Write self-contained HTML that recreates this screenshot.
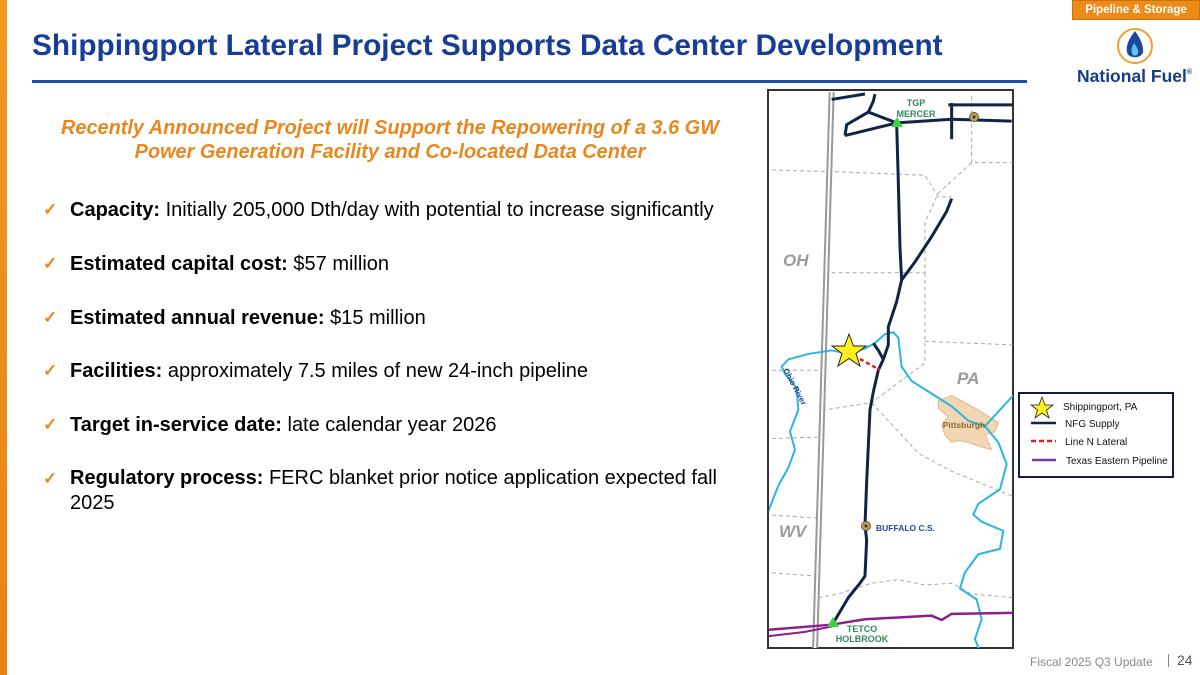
<!DOCTYPE html>
<html><head><meta charset="utf-8"><style>
*{margin:0;padding:0;box-sizing:border-box}
body{width:1200px;height:675px;position:relative;background:#fff;font-family:"Liberation Sans",Arial,sans-serif;overflow:hidden}
.abs{position:absolute}
.bul{position:absolute;left:43px;font-size:20px;color:#000;white-space:nowrap}
.bul .ck{position:absolute;left:0;top:1px;color:#e8871e;font-size:17px;font-weight:bold}
.bul .tx{position:absolute;left:27px}
.bul b{font-weight:bold}
</style></head><body>
<div class="abs" style="left:0;top:0;width:7px;height:675px;background:linear-gradient(#f29a1f,#e8820f)"></div>
<div class="abs" style="left:1072px;top:0;width:128px;height:20px;background:#ee8a16;border:1px solid #c9730e;color:#fff;font-weight:bold;font-size:11.5px;text-align:center;line-height:19px">Pipeline &amp; Storage</div>
<div class="abs" style="left:32px;top:29px;font-size:29.8px;font-weight:bold;color:#173d96;white-space:nowrap">Shippingport Lateral Project Supports Data Center Development</div>
<div class="abs" style="left:32px;top:80px;width:995px;height:3px;background:#1f4ea3"></div>
<svg class="abs" style="left:1070px;top:24px" width="125" height="62">
<circle cx="65" cy="22" r="17" fill="#fff" stroke="#f0a030" stroke-width="2"/>
<path d="M65 7 C58 16 56 22 57 28 C58 35 72 35 73 28 C74 22 70 14 65 7Z" fill="#1a4aa0"/>
<path d="M64 19 C61 24 61 28 63 31 C66 33 69 30 68 26 C67 23 65 21 64 19Z" fill="#5cc7ee"/>
<text x="7" y="58" font-family="Liberation Sans" font-weight="bold" font-size="17.5" fill="#173d86">National Fuel<tspan font-size="7" dy="-8">®</tspan></text>
</svg>
<div class="abs" style="left:20px;top:116px;width:740px;text-align:center;font-size:19.9px;font-weight:bold;font-style:italic;color:#e8871e;line-height:24px">Recently Announced Project will Support the Repowering of a 3.6 GW<br>Power Generation Facility and Co-located Data Center</div>
<div class="bul" style="top:199px"><span class="ck">✓</span><span class="tx"><b>Capacity:</b> Initially 205,000 Dth/day with potential to increase significantly</span></div>
<div class="bul" style="top:253px"><span class="ck">✓</span><span class="tx"><b>Estimated capital cost:</b> $57 million</span></div>
<div class="bul" style="top:307px"><span class="ck">✓</span><span class="tx"><b>Estimated annual revenue:</b> $15 million</span></div>
<div class="bul" style="top:360px"><span class="ck">✓</span><span class="tx"><b>Facilities:</b> approximately 7.5 miles of new 24-inch pipeline</span></div>
<div class="bul" style="top:414px"><span class="ck">✓</span><span class="tx"><b>Target in-service date:</b> late calendar year 2026</span></div>
<div class="bul" style="top:468px"><span class="ck">✓</span><span class="tx" style="line-height:25px;top:-2px"><b>Regulatory process:</b> FERC blanket prior notice application expected fall<br>2025</span></div>

<svg class="abs" style="left:0;top:0" width="1200" height="675">
<defs><clipPath id="mc"><rect x="769" y="91" width="244" height="557"/></clipPath></defs>
<rect x="768" y="90" width="245" height="558" fill="#fff" stroke="#333" stroke-width="2"/>
<g clip-path="url(#mc)">
<g transform="translate(765,85) scale(0.3333,0.361)" fill="none">
<g stroke="#aaa" stroke-width="1" stroke-dasharray="4,3">
<path vector-effect="non-scaling-stroke" d="M0 235 L200 240 L480 250 L520 310 L560 310"/>
<path vector-effect="non-scaling-stroke" d="M620 30 L620 215 L745 215"/>
<path vector-effect="non-scaling-stroke" d="M620 215 L520 300 L480 380 L480 520 L190 520"/>
<path vector-effect="non-scaling-stroke" d="M480 520 L480 770 L320 880 L180 900"/>
<path vector-effect="non-scaling-stroke" d="M480 710 L745 720"/>
<path vector-effect="non-scaling-stroke" d="M0 790 L180 790"/>
<path vector-effect="non-scaling-stroke" d="M0 980 L170 975"/>
<path vector-effect="non-scaling-stroke" d="M320 880 L460 1020 L560 1070 L745 1140"/>
<path vector-effect="non-scaling-stroke" d="M0 1190 L160 1200"/>
<path vector-effect="non-scaling-stroke" d="M0 1350 L150 1360"/>
<path vector-effect="non-scaling-stroke" d="M160 1420 L220 1410 L320 1380 L400 1370 L480 1385 L560 1380 L620 1410 L745 1420"/>
</g>
<path d="M200 20 L150 1570" stroke="#999" stroke-width="6" vector-effect="non-scaling-stroke"/>
<path d="M200 20 L150 1570" stroke="#fff" stroke-width="2" vector-effect="non-scaling-stroke"/>
<path d="M520 875 L560 860 L600 880 L640 900 L700 935 L690 960 L660 970 L680 1010 L640 1000 L610 990 L580 985 L560 990 L540 970 L530 940 L550 920 L520 895Z" fill="#f3d6b3" stroke="#e0b98a" vector-effect="non-scaling-stroke"/>
<g stroke="#2bb5e2" stroke-width="2">
<path vector-effect="non-scaling-stroke" d="M10 1180 L40 1110 L70 1060 L90 1010 L75 960 L100 900 L95 840 L60 800 L50 780 L70 760 L130 745 L200 735 L250 745 L300 730 L330 715 L360 690 L385 685 L400 700 L410 780 L440 820 L500 855 L560 890 L610 930 L660 945 L700 905 L745 860"/>
<path vector-effect="non-scaling-stroke" d="M660 945 L700 990 L725 1050 L705 1120 L640 1160 L625 1190 L650 1210 L715 1235 L705 1285 L640 1300 L600 1350 L585 1395 L635 1425 L650 1480 L630 1535 L645 1570"/>
</g>
<path d="M0 1510 L200 1495 L300 1480 L500 1470 L530 1482 L560 1465 L750 1462" stroke="#8e1d8e" stroke-width="2.5" vector-effect="non-scaling-stroke"/>
<path d="M0 1528 L120 1515 L200 1500" stroke="#8e1d8e" stroke-width="2" vector-effect="non-scaling-stroke"/>
<g stroke="#102545" stroke-width="3" stroke-linejoin="round">
<path vector-effect="non-scaling-stroke" d="M395 105 L400 270 L405 450 L410 540 L395 600 L370 670 L370 720 L355 760 L340 790 L325 850 L315 900 L310 1000 L305 1100 L300 1220 L305 1260 L300 1360 L285 1380 L250 1420 L205 1490"/>
<path vector-effect="non-scaling-stroke" d="M410 540 L450 490 L500 420 L545 350 L560 315"/>
<path vector-effect="non-scaling-stroke" d="M240 140 L395 105 L560 95 L740 100"/>
<path vector-effect="non-scaling-stroke" d="M240 140 L245 110 L310 75 L325 45 L330 25"/>
<path vector-effect="non-scaling-stroke" d="M310 75 L395 105"/>
<path vector-effect="non-scaling-stroke" d="M200 40 L300 25"/>
<path vector-effect="non-scaling-stroke" d="M550 55 L750 55"/>
<path vector-effect="non-scaling-stroke" d="M560 50 L560 150"/>
<path vector-effect="non-scaling-stroke" d="M325 715 L340 735 L355 760"/>
</g>
</g>
<line x1="860" y1="359" x2="880" y2="370" stroke="#e41b1b" stroke-width="2.5" stroke-dasharray="4,3"/>
<polygon points="849,334 853.5,346 866,346 856,353.5 860,366 849,358.5 838,366 842,353.5 832,346 844.5,346" fill="#ffef1a" stroke="#222" stroke-width="1"/>
<polygon points="897,117 903,127 891,127" fill="#3fd13f"/>
<polygon points="833,617 839,627 827,627" fill="#3fd13f"/>
<circle cx="974" cy="117" r="4.5" fill="#c9a04a" stroke="#555"/><circle cx="974" cy="117" r="1.5" fill="#333"/>
<circle cx="866" cy="526" r="4.5" fill="#c9a04a" stroke="#555"/><circle cx="866" cy="526" r="1.5" fill="#333"/>
<g font-family="Liberation Sans" font-weight="bold">
<text x="916" y="106" font-size="9" fill="#2e8a5a" text-anchor="middle">TGP</text>
<text x="916" y="117" font-size="9" fill="#2e8a5a" text-anchor="middle">MERCER</text>
<text x="862" y="632" font-size="9" fill="#2e8a5a" text-anchor="middle">TETCO</text>
<text x="862" y="642" font-size="9" fill="#2e8a5a" text-anchor="middle">HOLBROOK</text>
<text x="876" y="531" font-size="8.5" fill="#2a4a9a">BUFFALO  C.S.</text>
<text x="964" y="428" font-size="8.5" fill="#8a6a30" text-anchor="middle">Pittsburgh</text>
<text x="783" y="266" font-size="17" font-style="italic" fill="#9a9a9a">OH</text>
<text x="957" y="384" font-size="17" font-style="italic" fill="#9a9a9a">PA</text>
<text x="779" y="537" font-size="17" font-style="italic" fill="#9a9a9a">WV</text>
<text x="0" y="0" font-size="8" fill="#1e3f8a" transform="translate(783,370) rotate(62)">Ohio River</text>
</g>
</g>
</svg>

<div class="abs" style="left:1018px;top:392px;width:156px;height:86px;border:2px solid #141c40;background:#fff">
<svg width="152" height="82" style="position:absolute;left:0;top:0">
<polygon points="22,3 25,11 33,11 26.5,16 29,24 22,19 15,24 17.5,16 11,11 19,11" fill="#ffef1a" stroke="#222" stroke-width="0.8"/>
<line x1="11" y1="29" x2="36" y2="29" stroke="#102545" stroke-width="2.5"/>
<line x1="11" y1="47" x2="36" y2="47" stroke="#e41b1b" stroke-width="2.5" stroke-dasharray="5,3"/>
<line x1="12" y1="66" x2="36" y2="66" stroke="#7a3aa0" stroke-width="2.5"/>
<g font-family="Liberation Sans" font-size="10" fill="#111">
<text x="43" y="16">Shippingport, PA</text>
<text x="45" y="33">NFG Supply</text>
<text x="45" y="51">Line N Lateral</text>
<text x="46" y="70">Texas Eastern Pipeline</text>
</g></svg></div>

<div class="abs" style="left:1030px;top:655px;font-size:12px;color:#888;white-space:nowrap">Fiscal 2025 Q3 Update</div>
<div class="abs" style="left:1168px;top:654px;width:1px;height:13px;background:#888"></div>
<div class="abs" style="left:1177px;top:652px;font-size:14px;color:#555">24</div>
</body></html>
